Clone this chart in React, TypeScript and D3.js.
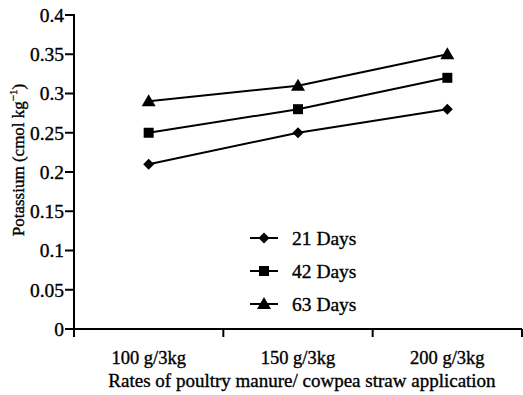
import React from "react";
import * as d3 from "d3";

const categories = ["100 g/3kg", "150 g/3kg", "200 g/3kg"];
const seriesNames = ["21 Days", "42 Days", "63 Days"];
const days21 = [0.21, 0.25, 0.28];
const days42 = [0.25, 0.28, 0.32];
const days63 = [0.29, 0.31, 0.35];
const yTicks = [0, 0.05, 0.1, 0.15, 0.2, 0.25, 0.3, 0.35, 0.4];
const yTickLabels = ["0", "0.05", "0.1", "0.15", "0.2", "0.25", "0.3", "0.35", "0.4"];

const W = 523, H = 395;
const left = 74, right = 522, top = 15, bottom = 329;
const FONT = "'Liberation Serif', 'Times New Roman', serif";

// marker shapes (centered at 0,0)
const diamondPath = "M0,-5.5L5.5,0L0,5.5L-5.5,0Z";
const squarePath = "M-5,-5H5V5H-5Z";
const trianglePath = "M0,-7L7,5H-7Z";
const markers = [diamondPath, squarePath, trianglePath];

const textStyle = { fill: "#000", stroke: "#000", strokeWidth: 0.35 };

export default function App() {
  const x = d3.scaleBand<string>().domain(categories).range([left, right]);
  const y = d3.scaleLinear().domain([0, 0.4]).range([bottom, top]);
  const series = [days21, days42, days63];
  const cx = (i: number) => x(categories[i])! + x.bandwidth() / 2;
  const line = d3.line<number>().x((_, i) => cx(i)).y((d) => y(d));
  const bounds = [left, ...categories.map((c) => x(c)! + x.bandwidth())];

  return (
    <svg width={W} height={H} style={{ position: "absolute", left: 0, top: 0, background: "#fff" }} fontFamily={FONT}>
      {/* axes */}
      <line x1={left} x2={left} y1={top - 1} y2={bottom + 1} stroke="#000" strokeWidth={2} />
      <line x1={left - 1} x2={right} y1={bottom} y2={bottom} stroke="#000" strokeWidth={2} />
      {yTicks.map((t, i) => (
        <g key={t}>
          <line x1={left - 9} x2={left} y1={y(t)} y2={y(t)} stroke="#000" strokeWidth={2} />
          <text x={left - 10} y={y(t)} dy="0.35em" textAnchor="end" fontSize={19.5} {...textStyle}>{yTickLabels[i]}</text>
        </g>
      ))}
      {bounds.map((b, i) => (
        <line key={i} x1={b} x2={b} y1={bottom} y2={bottom + 8} stroke="#000" strokeWidth={2} />
      ))}
      {categories.map((c, i) => (
        <text key={c} x={cx(i)} y={364} textAnchor="middle" fontSize={18.5} {...textStyle}>{c}</text>
      ))}
      <text x={302} y={387} textAnchor="middle" fontSize={19} {...textStyle}>Rates of poultry manure/ cowpea straw application</text>
      <text transform="translate(24,160) rotate(-90)" textAnchor="middle" fontSize={17} {...textStyle}>
        Potassium (cmol kg<tspan dy="-7" fontSize={11}>−1</tspan><tspan dy="7">)</tspan>
      </text>
      {/* series */}
      {series.map((s, si) => (
        <g key={si}>
          <path d={line(s)!} fill="none" stroke="#000" strokeWidth={2} />
          {s.map((v, i) => (
            <path key={i} transform={`translate(${cx(i)},${y(v)})`} d={markers[si]} fill="#000" />
          ))}
        </g>
      ))}
      {/* legend */}
      {seriesNames.map((n, i) => {
        const ly = 238 + i * 33;
        return (
          <g key={n}>
            <line x1={250} x2={278} y1={ly} y2={ly} stroke="#000" strokeWidth={2} />
            <path transform={`translate(264,${ly})`} d={markers[i]} fill="#000" />
            <text x={292} y={ly} dy="0.35em" fontSize={19.5} {...textStyle}>{n}</text>
          </g>
        );
      })}
    </svg>
  );
}
